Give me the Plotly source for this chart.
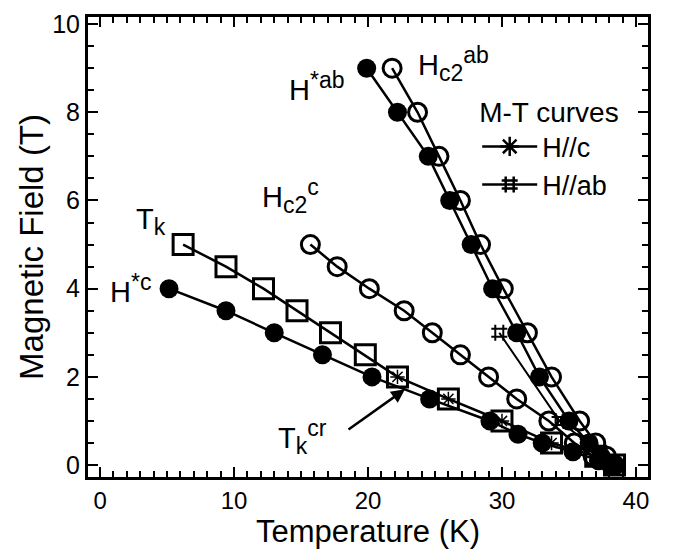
import plotly.graph_objects as go

# ---------------- data ----------------
hab_T = [19.9, 22.2, 24.5, 26.1, 27.7, 29.3, 31.1, 32.8, 35.0, 36.5, 37.4, 38.1]
hab_H = [9, 8, 7, 6, 5, 4, 3, 2, 1, 0.5, 0.2, 0]

hc2ab_T = [21.8, 23.7, 25.3, 26.9, 28.4, 30.1, 31.9, 33.7, 35.8, 37.0, 37.8, 38.4]
hc2ab_H = [9, 8, 7, 6, 5, 4, 3, 2, 1, 0.5, 0.2, 0]

hc2c_T = [15.7, 17.7, 20.1, 22.7, 24.8, 26.9, 29.0, 31.1, 33.5, 35.4, 36.8, 38.2]
hc2c_H = [5, 4.5, 4, 3.5, 3, 2.5, 2, 1.5, 1, 0.5, 0.2, 0]

hc_T = [5.15, 9.4, 13.0, 16.6, 20.3, 24.6, 29.1, 31.2, 33.0, 35.3, 37.2, 38.3]
hc_H = [4, 3.5, 3, 2.5, 2, 1.5, 1, 0.7, 0.5, 0.3, 0.1, 0]

tk_T = [6.2, 9.4, 12.2, 14.7, 17.2, 19.8, 22.2, 26.0, 30.0, 33.7, 37.0, 38.4]
tk_H = [5, 4.5, 4, 3.5, 3, 2.5, 2, 1.5, 1, 0.5, 0.2, 0]

mt_c_T = [22.2, 26.0, 30.0, 33.7, 37.0, 38.4]
mt_c_H = [2, 1.5, 1, 0.5, 0.2, 0]

mt_ab_T = [29.8, 34.3, 36.4, 38.2]
mt_ab_H = [3, 1, 0.5, 0]

x_ticks = [0, 10, 20, 30, 40]
y_ticks = [0, 2, 4, 6, 8, 10]

FONT = "Liberation Sans, Arial, Helvetica, sans-serif"
LW = 2.5

fig = go.Figure()

def series(x, y, symbol, size, lw):
    fig.add_trace(go.Scatter(
        x=x, y=y, mode="lines+markers", showlegend=False,
        line=dict(color="black", width=LW),
        marker=dict(symbol=symbol, size=size, color="black",
                    line=dict(color="black", width=lw)),
    ))

series(hc_T, hc_H, "circle", 19, 0)
series(tk_T, tk_H, "square-open", 20, 3)
series(hc2c_T, hc2c_H, "circle-open", 18, 3)
series(hab_T, hab_H, "circle", 19, 0)
series(hc2ab_T, hc2ab_H, "circle-open", 18, 3)

# M-T curves
fig.add_trace(go.Scatter(
    x=mt_c_T, y=mt_c_H, mode="lines+markers", showlegend=False,
    line=dict(color="black", width=1),
    marker=dict(symbol="asterisk-open", size=12, color="black",
                line=dict(color="black", width=1.5)),
))
fig.add_trace(go.Scatter(
    x=mt_ab_T, y=mt_ab_H, mode="lines+markers", showlegend=False,
    line=dict(color="black", width=2),
    marker=dict(symbol="hash-open", size=16, color="black",
                line=dict(color="black", width=2)),
))

# legend-only entries
fig.add_trace(go.Scatter(
    x=[None], y=[None], mode="lines+markers", name="H//c",
    line=dict(color="black", width=LW),
    marker=dict(symbol="asterisk-open", size=20, color="black",
                line=dict(color="black", width=2.5)),
))
fig.add_trace(go.Scatter(
    x=[None], y=[None], mode="lines+markers", name="H//ab",
    line=dict(color="black", width=LW),
    marker=dict(symbol="hash-open", size=18, color="black",
                line=dict(color="black", width=2.5)),
))

# ---------------- labels ----------------
def px2x(px):
    return (px - 100) / 13.4

def py2y(py):
    return (465 - py) / 44.8

def sup(t):
    return "<sup><span style='font-size:23px'>" + t + "</span></sup>"

def sub(t):
    return "<sub><span style='font-size:23px'>" + t + "</span></sub>"

labels = [
    ("H" + sup("*ab"), 287, 80),
    ("H" + sub("c2") + sup("ab"), 416, 58),
    ("H" + sub("c2") + sup("c"), 260, 192),
    ("T" + sub("k"), 134, 218),
    ("H" + sup("*c"), 108, 286),
    ("T" + sub("k") + sup("cr"), 276, 436),
]
for txt, px, py in labels:
    fig.add_annotation(
        x=px2x(px), y=py2y(py), xref="x", yref="y", text=txt,
        showarrow=False, xanchor="left", yanchor="middle",
        font=dict(family=FONT, size=29, color="black"),
    )

# arrow to Tk^cr
fig.add_annotation(
    x=px2x(405), y=py2y(388), ax=px2x(347), ay=py2y(430),
    xref="x", yref="y", axref="x", ayref="y", text="",
    showarrow=True, arrowhead=2, arrowsize=1.1, arrowwidth=2.5,
    arrowcolor="black",
)

# axis titles
fig.add_annotation(
    text="Temperature (K)", xref="paper", yref="paper", x=0.5, y=-0.118,
    xanchor="center", yanchor="middle", showarrow=False,
    font=dict(family=FONT, size=31, color="black"),
)
fig.add_annotation(
    text="Magnetic Field (T)", xref="paper", yref="paper", x=-0.102, y=0.50,
    xanchor="center", yanchor="middle", showarrow=False, textangle=-90,
    font=dict(family=FONT, size=33, color="black"),
)

fig.update_layout(
    width=673, height=552,
    margin=dict(l=88, r=25, t=10, b=75),
    paper_bgcolor="white", plot_bgcolor="white",
    font=dict(family=FONT, color="black"),
    legend=dict(
        x=0.695, y=0.85, xanchor="left", yanchor="top",
        bgcolor="rgba(0,0,0,0)",
        font=dict(family=FONT, size=27, color="black"),
        title=dict(text="M-T curves", font=dict(family=FONT, size=28, color="black")),
        itemwidth=55, tracegroupgap=0,
    ),
)

fig.update_xaxes(
    range=[-0.9, 40.9], tickvals=x_ticks, ticktext=[str(v) for v in x_ticks],
    showgrid=False, zeroline=False,
    showline=True, linecolor="black", linewidth=3, mirror="ticks",
    ticks="inside", ticklen=10, tickwidth=2, tickcolor="black",
    minor=dict(dtick=1, ticks="inside", ticklen=6, tickwidth=2, tickcolor="black", showgrid=False),
    tickfont=dict(family=FONT, size=24, color="black"),
)
fig.update_yaxes(
    range=[-0.27, 10.16], tickvals=y_ticks, ticktext=[str(v) for v in y_ticks],
    showgrid=False, zeroline=False,
    showline=True, linecolor="black", linewidth=3, mirror="ticks",
    ticks="inside", ticklen=10, tickwidth=2, tickcolor="black",
    minor=dict(dtick=0.5, ticks="inside", ticklen=6, tickwidth=2, tickcolor="black", showgrid=False),
    tickfont=dict(family=FONT, size=25, color="black"),
)

fig.write_html("out.html")
